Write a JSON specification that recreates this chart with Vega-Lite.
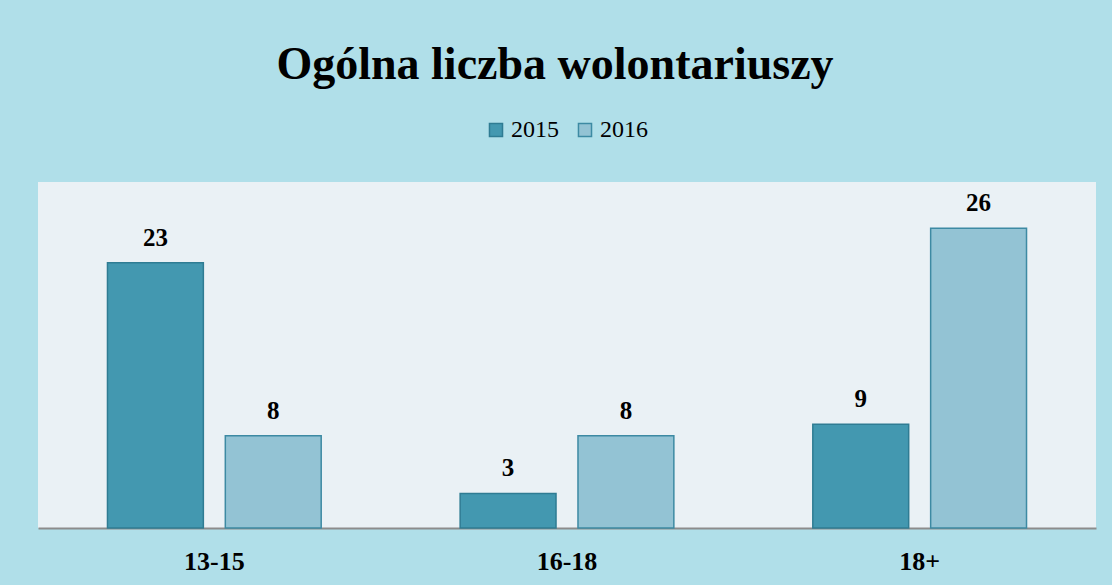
{
  "$schema": "https://vega.github.io/schema/vega-lite/v6.json",
  "width": 1058,
  "height": 346,
  "autosize": {"type": "none"},
  "padding": {"left": 38, "top": 182, "right": 16, "bottom": 57},
  "background": "#B0DFE9",
  "title": {
    "text": "Ogólna liczba wolontariuszy",
    "font": "Liberation Serif",
    "fontSize": 46,
    "fontWeight": "bold",
    "color": "#000000",
    "anchor": "middle",
    "offset": 29,
    "dx": -12
  },
  "data": {
    "values": [
      {"grupa": "13-15", "rok": "2015", "liczba": 23},
      {"grupa": "13-15", "rok": "2016", "liczba": 8},
      {"grupa": "16-18", "rok": "2015", "liczba": 3},
      {"grupa": "16-18", "rok": "2016", "liczba": 8},
      {"grupa": "18+", "rok": "2015", "liczba": 9},
      {"grupa": "18+", "rok": "2016", "liczba": 26}
    ]
  },
  "encoding": {
    "x": {
      "field": "grupa",
      "type": "nominal",
      "sort": ["13-15", "16-18", "18+"],
      "scale": {"paddingInner": 0.394, "paddingOuter": 0.197},
      "axis": {
        "title": null,
        "labelAngle": 0,
        "ticks": false,
        "labelPadding": 41,
        "labelBaseline": "alphabetic",
        "labelFont": "Liberation Serif",
        "labelFontSize": 26,
        "labelFontWeight": "bold",
        "labelColor": "#000000",
        "domainColor": "#8C8C8C",
        "domainWidth": 2
      }
    },
    "xOffset": {
      "field": "rok",
      "type": "nominal",
      "scale": {"paddingInner": 0.1864, "paddingOuter": 0}
    },
    "y": {
      "field": "liczba",
      "type": "quantitative",
      "scale": {"domain": [0, 30], "nice": false},
      "axis": null
    }
  },
  "layer": [
    {
      "mark": {"type": "bar", "strokeWidth": 1.5},
      "encoding": {
        "color": {
          "field": "rok",
          "type": "nominal",
          "scale": {"domain": ["2015", "2016"], "range": ["#4398B0", "#93C3D4"]},
          "legend": {
            "title": null,
            "orient": "none",
            "legendX": 446,
            "legendY": -64,
            "direction": "horizontal",
            "symbolType": "square",
            "symbolSize": 170,
            "symbolStrokeWidth": 1.5,
            "symbolStrokeColor": "#3A86A0",
            "labelFont": "Liberation Serif",
            "labelFontSize": 24,
            "labelColor": "#000000",
            "labelOffset": 3,
            "columnPadding": 14
          }
        },
        "stroke": {
          "field": "rok",
          "type": "nominal",
          "scale": {"domain": ["2015", "2016"], "range": ["#2F7C93", "#3D8AA3"]},
          "legend": null
        }
      }
    },
    {
      "mark": {
        "type": "text",
        "baseline": "alphabetic",
        "dy": -17,
        "font": "Liberation Serif",
        "fontSize": 25,
        "fontWeight": "bold",
        "color": "#000000"
      },
      "encoding": {"text": {"field": "liczba", "type": "quantitative"}}
    }
  ],
  "config": {
    "view": {"fill": "#EAF1F5", "stroke": null}
  }
}
